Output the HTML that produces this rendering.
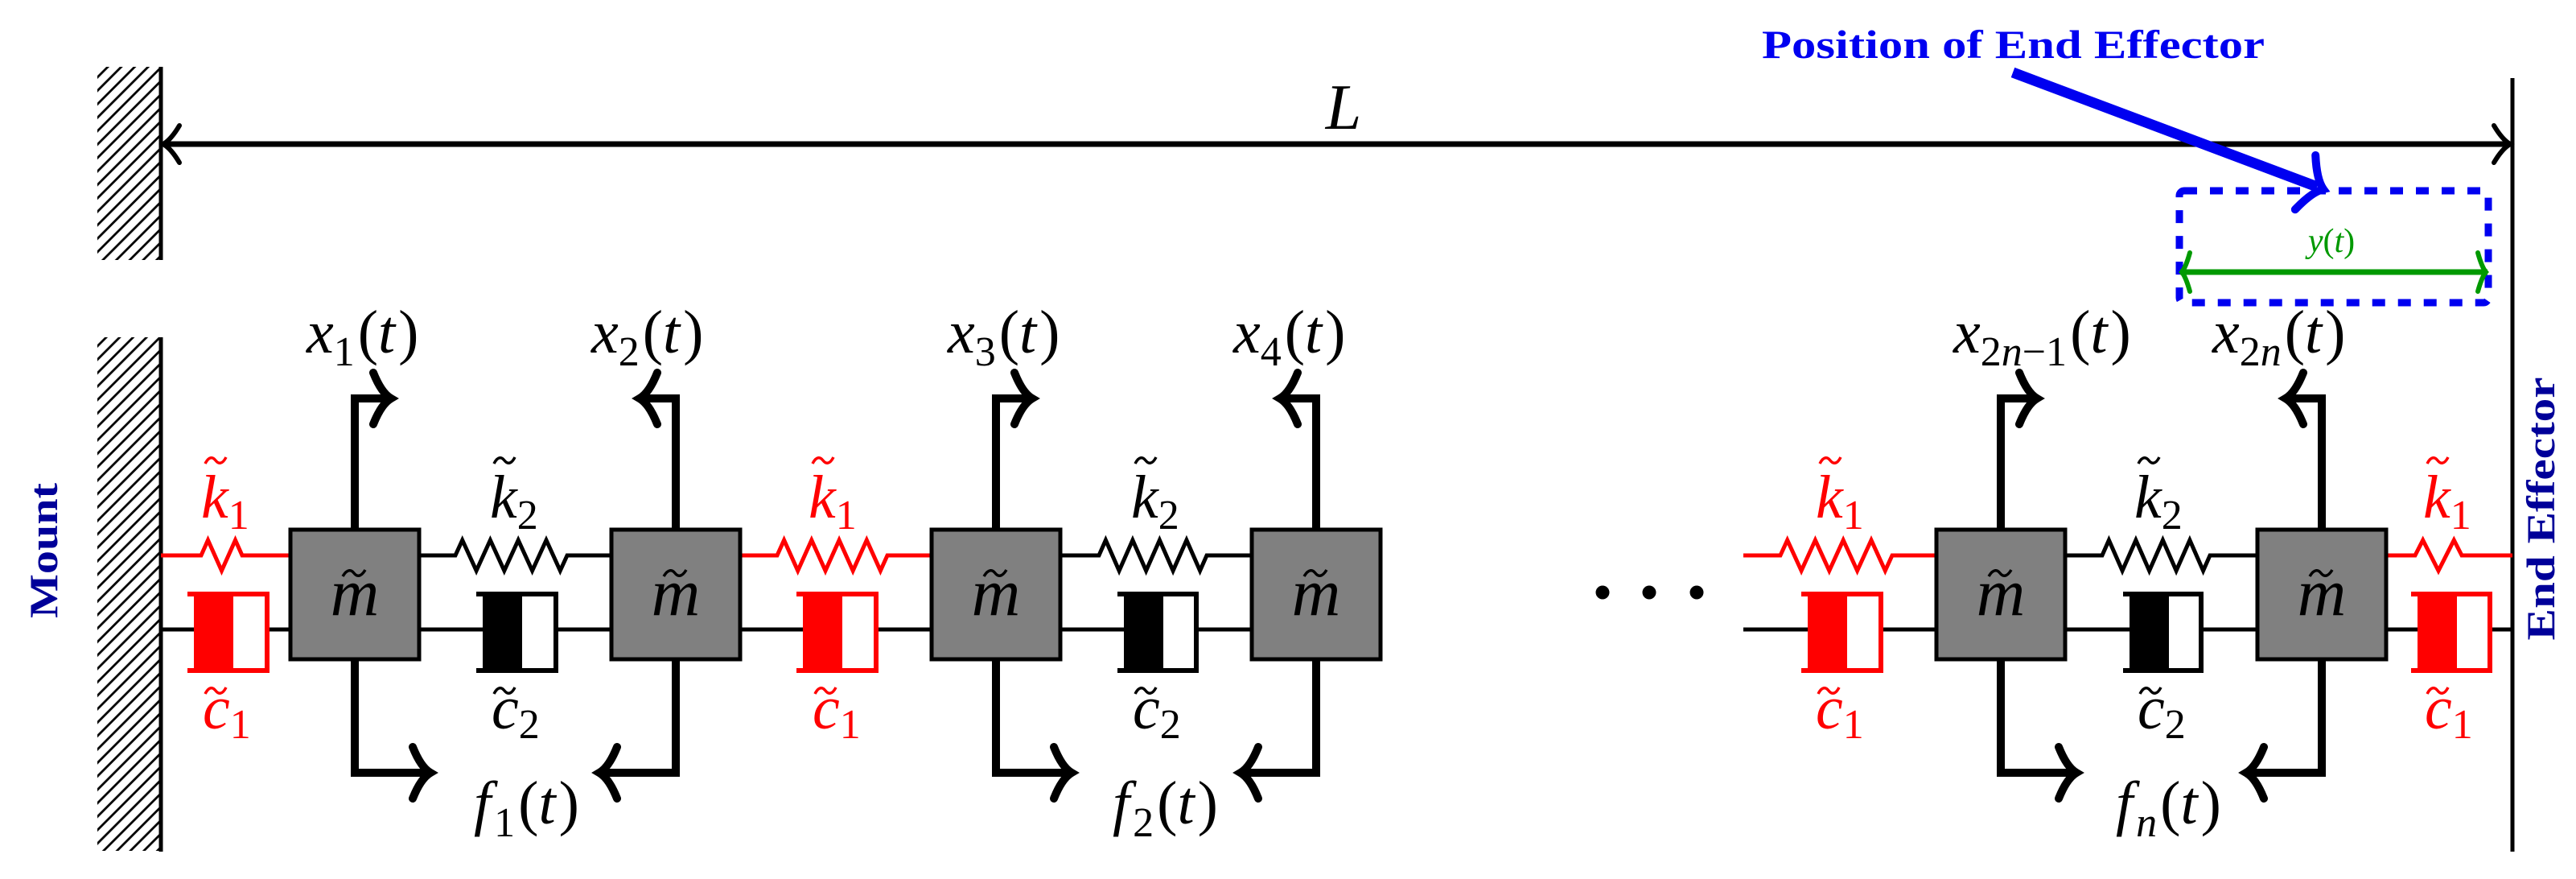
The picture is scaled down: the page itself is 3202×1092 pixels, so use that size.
<!DOCTYPE html>
<html><head><meta charset="utf-8"><style>html,body{margin:0;padding:0;background:#fff}svg{display:block}svg text{font-family:"Liberation Serif",serif}</style></head>
<body>
<svg width="3202" height="1092" viewBox="0 0 3202 1092" xmlns="http://www.w3.org/2000/svg" font-family="'Liberation Serif', serif">
<defs>
<pattern id="h" patternUnits="userSpaceOnUse" width="16.7" height="16.7">
<path d="M-2,18.7 L18.7,-2 M-2,2 L2,-2 M14.7,18.7 L18.7,14.7" stroke="#000" stroke-width="2.8"/>
</pattern>
</defs>
<rect width="3202" height="1092" fill="#fff"/>
<rect x="121" y="83" width="79" height="240" fill="url(#h)"/>
<rect x="121" y="419" width="79" height="638" fill="url(#h)"/>
<line x1="200" y1="83" x2="200" y2="323" stroke="#000" stroke-width="5"/>
<line x1="200" y1="419" x2="200" y2="1058" stroke="#000" stroke-width="5"/>
<line x1="3123" y1="97" x2="3123" y2="1058" stroke="#000" stroke-width="5"/>
<line x1="204" y1="179" x2="3119" y2="179" stroke="#000" stroke-width="7"/>
<g fill="none" stroke="#000" stroke-width="6" stroke-linecap="round">
<path transform="translate(203,179) rotate(180)" d="M-20,-23 Q-10,-6 0,0 Q-10,6 -20,23"/>
<path transform="translate(3120,179)" d="M-20,-23 Q-10,-6 0,0 Q-10,6 -20,23"/>
</g>
<text x="1670" y="160" font-size="80" font-style="italic" text-anchor="middle">L</text>

<g fill="none" stroke-width="5" stroke-linejoin="miter">
<path stroke="#f00" d="M200,690 H250 L258.5,671 L275.5,709 L292.5,671 L301,690 H361"/>
<path stroke="#000" d="M521,690 H566 L574.7,671 L592.1,709 L609.4,671 L626.8,709 L644.2,671 L661.6,709 L679,671 L696.3,709 L705,690 H760"/>
<path stroke="#f00" d="M920,690 H966 L974.6,671 L991.7,709 L1008.8,671 L1026,709 L1043.1,671 L1060.2,709 L1077.3,671 L1094.4,709 L1103,690 H1158"/>
<path stroke="#000" d="M1318,690 H1366 L1374.4,671 L1391.1,709 L1407.9,671 L1424.6,709 L1441.4,671 L1458.1,709 L1474.9,671 L1491.6,709 L1500,690 H1556"/>
<path stroke="#f00" d="M2167,690 H2213 L2221.7,671 L2239.1,709 L2256.4,671 L2273.8,709 L2291.2,671 L2308.6,709 L2326,671 L2343.3,709 L2352,690 H2407"/>
<path stroke="#000" d="M2567,690 H2613 L2621.4,671 L2638.1,709 L2654.9,671 L2671.6,709 L2688.4,671 L2705.1,709 L2721.9,671 L2738.6,709 L2747,690 H2806"/>
<path stroke="#f00" d="M2966,690 H3002 L3011.7,671 L3031,709 L3050.3,671 L3060,690 H3123"/>
</g>

<g stroke="#000" stroke-width="5">
<line x1="200" y1="782" x2="241" y2="782"/><line x1="332" y1="782" x2="361" y2="782"/>
<line x1="521" y1="782" x2="600" y2="782"/><line x1="691" y1="782" x2="760" y2="782"/>
<line x1="920" y1="782" x2="998" y2="782"/><line x1="1089" y1="782" x2="1158" y2="782"/>
<line x1="1318" y1="782" x2="1397" y2="782"/><line x1="1487" y1="782" x2="1556" y2="782"/>
<line x1="2167" y1="782" x2="2247" y2="782"/><line x1="2338" y1="782" x2="2407" y2="782"/>
<line x1="2567" y1="782" x2="2647" y2="782"/><line x1="2736" y1="782" x2="2806" y2="782"/>
<line x1="2966" y1="782" x2="3005" y2="782"/><line x1="3095" y1="782" x2="3123" y2="782"/>
</g>
<g fill="none" stroke-width="6">
<path stroke="#f00" d="M233,738 H332 V833 H233"/><rect x="241" y="735" width="49" height="100" fill="#f00" stroke="none"/>
<path stroke="#000" d="M592,738 H691 V833 H592"/><rect x="600" y="735" width="49" height="100" fill="#000" stroke="none"/>
<path stroke="#f00" d="M990,738 H1089 V833 H990"/><rect x="998" y="735" width="49" height="100" fill="#f00" stroke="none"/>
<path stroke="#000" d="M1389,738 H1487 V833 H1389"/><rect x="1397" y="735" width="49" height="100" fill="#000" stroke="none"/>
<path stroke="#f00" d="M2239,738 H2338 V833 H2239"/><rect x="2247" y="735" width="49" height="100" fill="#f00" stroke="none"/>
<path stroke="#000" d="M2639,738 H2736 V833 H2639"/><rect x="2647" y="735" width="49" height="100" fill="#000" stroke="none"/>
<path stroke="#f00" d="M2997,738 H3095 V833 H2997"/><rect x="3005" y="735" width="49" height="100" fill="#f00" stroke="none"/>
</g>

<g fill="#808080" stroke="#000" stroke-width="5">
<rect x="361" y="658" width="160" height="161"/>
<rect x="760" y="658" width="160" height="161"/>
<rect x="1158" y="658" width="160" height="161"/>
<rect x="1556" y="658" width="160" height="161"/>
<rect x="2407" y="658" width="160" height="161"/>
<rect x="2806" y="658" width="160" height="161"/>
</g>

<g fill="none" stroke="#000" stroke-width="10" stroke-linecap="butt">
<path d="M441,656 V495 H482"/><path d="M441,820 V960 H530"/>
<path d="M840,656 V495 H799"/><path d="M840,820 V960 H751"/>
<path d="M1238,656 V495 H1279"/><path d="M1238,820 V960 H1327"/>
<path d="M1636,656 V495 H1595"/><path d="M1636,820 V960 H1547"/>
<path d="M2487,656 V495 H2528"/><path d="M2487,820 V960 H2576"/>
<path d="M2886,656 V495 H2845"/><path d="M2886,820 V960 H2797"/>
</g>
<g fill="none" stroke="#000" stroke-width="10" stroke-linecap="round">
<path transform="translate(486,495)" d="M-22,-32 Q-12,-7 0,0 Q-12,7 -22,32"/>
<path transform="translate(535,960)" d="M-22,-32 Q-12,-7 0,0 Q-12,7 -22,32"/>
<path transform="translate(795,495) rotate(180)" d="M-22,-32 Q-12,-7 0,0 Q-12,7 -22,32"/>
<path transform="translate(745,960) rotate(180)" d="M-22,-32 Q-12,-7 0,0 Q-12,7 -22,32"/>
<path transform="translate(1283,495)" d="M-22,-32 Q-12,-7 0,0 Q-12,7 -22,32"/>
<path transform="translate(1332,960)" d="M-22,-32 Q-12,-7 0,0 Q-12,7 -22,32"/>
<path transform="translate(1591,495) rotate(180)" d="M-22,-32 Q-12,-7 0,0 Q-12,7 -22,32"/>
<path transform="translate(1542,960) rotate(180)" d="M-22,-32 Q-12,-7 0,0 Q-12,7 -22,32"/>
<path transform="translate(2532,495)" d="M-22,-32 Q-12,-7 0,0 Q-12,7 -22,32"/>
<path transform="translate(2581,960)" d="M-22,-32 Q-12,-7 0,0 Q-12,7 -22,32"/>
<path transform="translate(2841,495) rotate(180)" d="M-22,-32 Q-12,-7 0,0 Q-12,7 -22,32"/>
<path transform="translate(2792,960) rotate(180)" d="M-22,-32 Q-12,-7 0,0 Q-12,7 -22,32"/>
</g>

<circle cx="1992" cy="736" r="8.5"/><circle cx="2050" cy="736" r="8.5"/><circle cx="2109" cy="736" r="8.5"/>

<g font-size="76">
<text x="381" y="438"><tspan font-style="italic">x</tspan><tspan font-size="52" dy="16">1</tspan><tspan dy="-16" dx="4">(</tspan><tspan font-style="italic">t</tspan><tspan dx="4">)</tspan></text>
<text x="735" y="438"><tspan font-style="italic">x</tspan><tspan font-size="52" dy="16">2</tspan><tspan dy="-16" dx="4">(</tspan><tspan font-style="italic">t</tspan><tspan dx="4">)</tspan></text>
<text x="1178" y="438"><tspan font-style="italic">x</tspan><tspan font-size="52" dy="16">3</tspan><tspan dy="-16" dx="4">(</tspan><tspan font-style="italic">t</tspan><tspan dx="4">)</tspan></text>
<text x="1533" y="438"><tspan font-style="italic">x</tspan><tspan font-size="52" dy="16">4</tspan><tspan dy="-16" dx="4">(</tspan><tspan font-style="italic">t</tspan><tspan dx="4">)</tspan></text>
<text x="2428" y="438"><tspan font-style="italic">x</tspan><tspan font-size="52" dy="16">2</tspan><tspan font-size="52" font-style="italic">n</tspan><tspan font-size="52">−1</tspan><tspan dy="-16" dx="4">(</tspan><tspan font-style="italic">t</tspan><tspan dx="4">)</tspan></text>
<text x="2750" y="438"><tspan font-style="italic">x</tspan><tspan font-size="52" dy="16">2</tspan><tspan font-size="52" font-style="italic">n</tspan><tspan dy="-16" dx="4">(</tspan><tspan font-style="italic">t</tspan><tspan dx="4">)</tspan></text>
<text x="589" y="1023"><tspan font-style="italic">f</tspan><tspan font-size="52" dy="16" dx="4">1</tspan><tspan dy="-16" dx="4">(</tspan><tspan font-style="italic">t</tspan><tspan dx="4">)</tspan></text>
<text x="1383" y="1023"><tspan font-style="italic">f</tspan><tspan font-size="52" dy="16" dx="4">2</tspan><tspan dy="-16" dx="4">(</tspan><tspan font-style="italic">t</tspan><tspan dx="4">)</tspan></text>
<text x="2630" y="1023"><tspan font-style="italic">f</tspan><tspan font-size="52" dy="16" dx="4" font-style="italic">n</tspan><tspan dy="-16" dx="4">(</tspan><tspan font-style="italic">t</tspan><tspan dx="4">)</tspan></text>
</g>

<g font-size="84" font-style="italic" text-anchor="middle">
<text x="441" y="764">m</text><text x="840" y="764">m</text><text x="1238" y="764">m</text>
<text x="1636" y="764">m</text><text x="2487" y="764">m</text><text x="2886" y="764">m</text>
</g>
<g fill="none" stroke="#000" stroke-width="3.5">
<path transform="translate(440,712)" d="M-14,4 C-8,-6 -3,-4 0,0 C3,4 8,6 14,-4"/>
<path transform="translate(839,712)" d="M-14,4 C-8,-6 -3,-4 0,0 C3,4 8,6 14,-4"/>
<path transform="translate(1237,712)" d="M-14,4 C-8,-6 -3,-4 0,0 C3,4 8,6 14,-4"/>
<path transform="translate(1635,712)" d="M-14,4 C-8,-6 -3,-4 0,0 C3,4 8,6 14,-4"/>
<path transform="translate(2486,712)" d="M-14,4 C-8,-6 -3,-4 0,0 C3,4 8,6 14,-4"/>
<path transform="translate(2885,712)" d="M-14,4 C-8,-6 -3,-4 0,0 C3,4 8,6 14,-4"/>
</g>

<g font-size="76">
<text x="250" y="643" fill="#f00"><tspan font-style="italic">k</tspan><tspan font-size="52" dy="14">1</tspan></text>
<text x="609" y="643"><tspan font-style="italic">k</tspan><tspan font-size="52" dy="14">2</tspan></text>
<text x="1005" y="643" fill="#f00"><tspan font-style="italic">k</tspan><tspan font-size="52" dy="14">1</tspan></text>
<text x="1406" y="643"><tspan font-style="italic">k</tspan><tspan font-size="52" dy="14">2</tspan></text>
<text x="2257" y="643" fill="#f00"><tspan font-style="italic">k</tspan><tspan font-size="52" dy="14">1</tspan></text>
<text x="2653" y="643"><tspan font-style="italic">k</tspan><tspan font-size="52" dy="14">2</tspan></text>
<text x="3012" y="643" fill="#f00"><tspan font-style="italic">k</tspan><tspan font-size="52" dy="14">1</tspan></text>
<text x="252" y="905" fill="#f00"><tspan font-style="italic">c</tspan><tspan font-size="52" dy="12">1</tspan></text>
<text x="611" y="905"><tspan font-style="italic">c</tspan><tspan font-size="52" dy="12">2</tspan></text>
<text x="1010" y="905" fill="#f00"><tspan font-style="italic">c</tspan><tspan font-size="52" dy="12">1</tspan></text>
<text x="1408" y="905"><tspan font-style="italic">c</tspan><tspan font-size="52" dy="12">2</tspan></text>
<text x="2257" y="905" fill="#f00"><tspan font-style="italic">c</tspan><tspan font-size="52" dy="12">1</tspan></text>
<text x="2657" y="905"><tspan font-style="italic">c</tspan><tspan font-size="52" dy="12">2</tspan></text>
<text x="3014" y="905" fill="#f00"><tspan font-style="italic">c</tspan><tspan font-size="52" dy="12">1</tspan></text>
</g>
<g fill="none" stroke-width="3.5">
<path stroke="#f00" transform="translate(268,572)" d="M-13,4 C-8,-6 -3,-4 0,0 C3,4 8,6 13,-4"/>
<path stroke="#000" transform="translate(627,572)" d="M-13,4 C-8,-6 -3,-4 0,0 C3,4 8,6 13,-4"/>
<path stroke="#f00" transform="translate(1023,572)" d="M-13,4 C-8,-6 -3,-4 0,0 C3,4 8,6 13,-4"/>
<path stroke="#000" transform="translate(1424,572)" d="M-13,4 C-8,-6 -3,-4 0,0 C3,4 8,6 13,-4"/>
<path stroke="#f00" transform="translate(2275,572)" d="M-13,4 C-8,-6 -3,-4 0,0 C3,4 8,6 13,-4"/>
<path stroke="#000" transform="translate(2671,572)" d="M-13,4 C-8,-6 -3,-4 0,0 C3,4 8,6 13,-4"/>
<path stroke="#f00" transform="translate(3030,572)" d="M-13,4 C-8,-6 -3,-4 0,0 C3,4 8,6 13,-4"/>
<path stroke="#f00" transform="translate(268,858)" d="M-13,4 C-8,-6 -3,-4 0,0 C3,4 8,6 13,-4"/>
<path stroke="#000" transform="translate(627,858)" d="M-13,4 C-8,-6 -3,-4 0,0 C3,4 8,6 13,-4"/>
<path stroke="#f00" transform="translate(1026,858)" d="M-13,4 C-8,-6 -3,-4 0,0 C3,4 8,6 13,-4"/>
<path stroke="#000" transform="translate(1424,858)" d="M-13,4 C-8,-6 -3,-4 0,0 C3,4 8,6 13,-4"/>
<path stroke="#f00" transform="translate(2273,858)" d="M-13,4 C-8,-6 -3,-4 0,0 C3,4 8,6 13,-4"/>
<path stroke="#000" transform="translate(2673,858)" d="M-13,4 C-8,-6 -3,-4 0,0 C3,4 8,6 13,-4"/>
<path stroke="#f00" transform="translate(3030,858)" d="M-13,4 C-8,-6 -3,-4 0,0 C3,4 8,6 13,-4"/>
</g>

<rect x="2709" y="237" width="384" height="139" rx="6" fill="none" stroke="#0000f0" stroke-width="9" stroke-dasharray="16 16"/>
<line x1="2710" y1="338" x2="3092" y2="338" stroke="#009900" stroke-width="7"/>
<g fill="none" stroke="#009900" stroke-width="6" stroke-linecap="round">
<path transform="translate(2712,338) rotate(180)" d="M-10,-24 Q-5,-6 0,0 Q-5,6 -10,24"/>
<path transform="translate(3090,338)" d="M-10,-24 Q-5,-6 0,0 Q-5,6 -10,24"/>
</g>
<text x="2898" y="313" font-size="42" fill="#009900" text-anchor="middle"><tspan font-style="italic">y</tspan>(<tspan font-style="italic">t</tspan>)</text>

<line x1="2502" y1="90" x2="2880" y2="232" stroke="#0000f0" stroke-width="13"/>
<path transform="translate(2888,235) rotate(20.6)" d="M-24,-36 Q-12,-8 0,0 Q-12,8 -24,36" fill="none" stroke="#0000f0" stroke-width="10" stroke-linecap="round"/>
<text x="2190" y="72" font-size="50" font-weight="bold" fill="#0000f0" textLength="625" lengthAdjust="spacingAndGlyphs">Position of End Effector</text>

<text transform="translate(71,684) rotate(-90)" font-size="50" font-weight="bold" fill="#000099" text-anchor="middle" textLength="168" lengthAdjust="spacingAndGlyphs">Mount</text>
<text transform="translate(3175,632) rotate(-90)" font-size="50" font-weight="bold" fill="#000099" text-anchor="middle" textLength="327" lengthAdjust="spacingAndGlyphs">End Effector</text>
</svg>
</body></html>
